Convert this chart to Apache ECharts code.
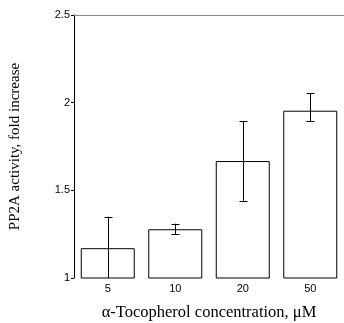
<!DOCTYPE html>
<html><head><meta charset="utf-8">
<script src="https://cdn.jsdelivr.net/npm/echarts@6/dist/echarts.min.js"></script>
<style>html,body{margin:0;padding:0;background:#fff}#c{width:344px;height:323px}</style>
</head><body><div id="c"></div>
<script>
const categories = ['5', '10', '20', '50'];
const values = [1.17, 1.278, 1.667, 1.954];
const errLow = [0.99, 1.25, 1.44, 1.894];
const errHigh = [1.35, 1.31, 1.896, 2.054];
const yTicks = [1, 1.5, 2, 2.5];

const chart = echarts.init(document.getElementById('c'), null, {renderer: 'canvas'});
chart.setOption({
  animation: false,
  grid: {left: 74, right: 0, top: 15, bottom: 45, containLabel: false, outerBoundsMode: 'none'},
  xAxis: [{
    type: 'category', data: categories, position: 'bottom',
    axisLine: {show: false}, axisTick: {show: false},
    axisLabel: {color: '#000', fontFamily: 'Liberation Sans, Arial', fontSize: 11, margin: 5},
    name: 'α-Tocopherol concentration, μM', nameLocation: 'middle', nameGap: 26,
    nameTextStyle: {color: '#000', fontFamily: 'Liberation Serif, Times New Roman', fontSize: 16.5}
  }, {
    type: 'category', data: categories, position: 'top',
    axisLine: {show: true, lineStyle: {color: '#888', width: 1}},
    axisTick: {show: false}, axisLabel: {show: false}
  }],
  yAxis: {
    type: 'value', min: 1, max: 2.5, interval: 0.5,
    axisLine: {show: true, lineStyle: {color: '#000', width: 1}},
    axisTick: {show: true, length: 3, lineStyle: {color: '#000'}},
    splitLine: {show: false},
    axisLabel: {color: '#000', fontFamily: 'Liberation Sans, Arial', fontSize: 11, margin: 4,
      formatter: v => yTicks.includes(v) ? String(v) : ''},
    name: 'PP2A activity, fold increase', nameLocation: 'middle', nameGap: 51,
    nameTextStyle: {color: '#000', fontFamily: 'Liberation Serif, Times New Roman', fontSize: 15}
  },
  series: [{
    type: 'bar', data: values, barWidth: '80%',
    itemStyle: {color: '#fff', borderColor: '#000', borderWidth: 1}
  }, {
    type: 'custom',
    data: categories.map((c, i) => [i, errLow[i], errHigh[i]]),
    renderItem: function (params, api) {
      const x = api.value(0);
      const lo = api.coord([x, Math.max(api.value(1), 1)]);
      const hi = api.coord([x, api.value(2)]);
      const cx = Math.round(lo[0]) + 0.5;
      const cw = 4;
      const children = [
        {type: 'line', shape: {x1: cx, y1: hi[1], x2: cx, y2: lo[1]}, style: {stroke: '#000', lineWidth: 1}},
        {type: 'line', shape: {x1: cx - cw, y1: Math.round(hi[1]) + 0.5, x2: cx + cw, y2: Math.round(hi[1]) + 0.5}, style: {stroke: '#000', lineWidth: 1}}
      ];
      if (api.value(1) > 1) {
        children.push({type: 'line', shape: {x1: cx - cw, y1: Math.round(lo[1]) + 0.5, x2: cx + cw, y2: Math.round(lo[1]) + 0.5}, style: {stroke: '#000', lineWidth: 1}});
      }
      return {type: 'group', children: children};
    },
    z: 10
  }]
});
</script></body></html>
